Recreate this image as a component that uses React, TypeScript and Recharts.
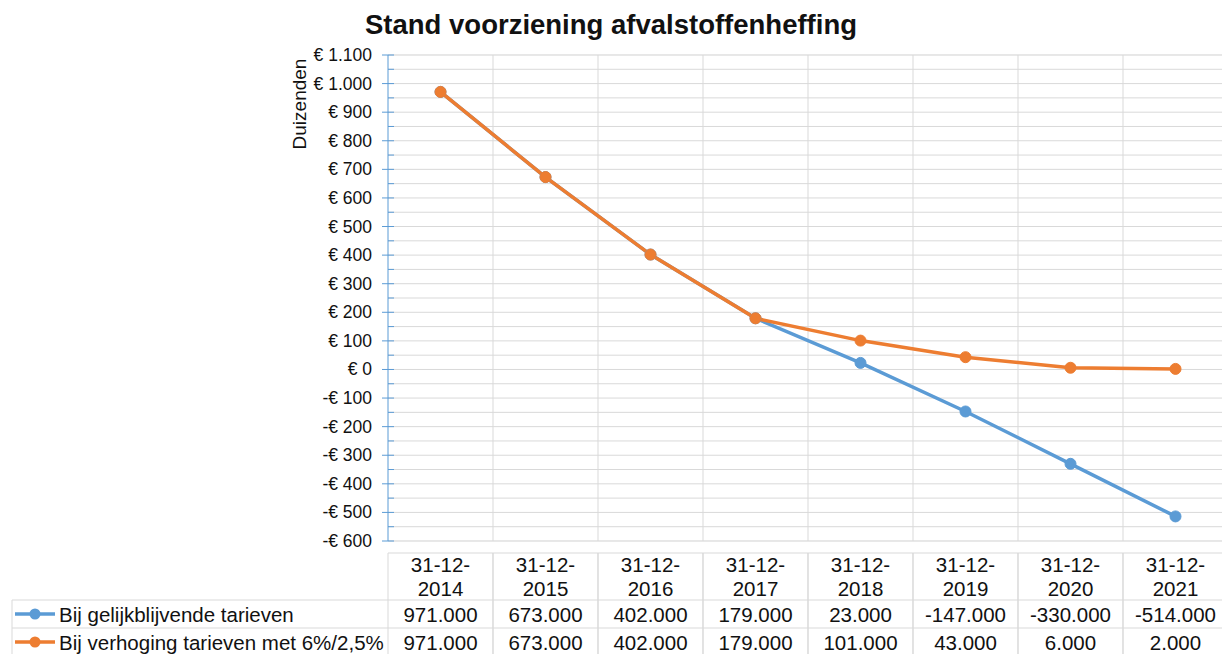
import React from 'react';
import { LineChart, Line, XAxis, YAxis, CartesianGrid, Label } from 'recharts';

const dates = ['31-12-2014', '31-12-2015', '31-12-2016', '31-12-2017', '31-12-2018', '31-12-2019', '31-12-2020', '31-12-2021'];
const gelijk = [971, 673, 402, 179, 23, -147, -330, -514];
const verhoging = [971, 673, 402, 179, 101, 43, 6, 2];
const seriesNames = ['Bij gelijkblijvende tarieven', 'Bij verhoging tarieven met 6%/2,5%'];
const majorTicks = [1100, 1000, 900, 800, 700, 600, 500, 400, 300, 200, 100, 0, -100, -200, -300, -400, -500, -600];
const minorTicks = [1050, 950, 850, 750, 650, 550, 450, 350, 250, 150, 50, -50, -150, -250, -350, -450, -550];

const data = dates.map((d, i) => ({ date: d, gelijk: gelijk[i], verhoging: verhoging[i] }));

const BLUE = '#5B9BD5';
const ORANGE = '#ED7D31';
const GRID = '#D9D9D9';
const FONT = 'Liberation Sans, Arial, sans-serif';

const W = 1230;
const H = 654;
const TOP = 55;
const LEFT = 388;
const RIGHT = 1228;
const BOTTOM = 541;
const BW = (RIGHT - LEFT) / dates.length;

const nl = (n: number) => {
  const s = Math.abs(n).toString().replace(/\B(?=(\d{3})+(?!\d))/g, '.');
  return (n < 0 ? '-' : '') + s;
};
const euro = (v: number) => (v < 0 ? '-€ ' : '€ ') + nl(Math.abs(v));

const YTick = (props: any) => {
  const { y, payload } = props;
  const v = payload.value;
  const major = v % 100 === 0;
  if (!major) {
    return <line x1={LEFT} x2={LEFT + 6} y1={y} y2={y} stroke={BLUE} strokeWidth={1} />;
  }
  return (
    <g>
      <line x1={LEFT - 6} x2={LEFT + 6} y1={y} y2={y} stroke={BLUE} strokeWidth={1} />
      <text x={372} y={y} textAnchor="end" dominantBaseline="central" fontSize={17.5} fontFamily={FONT} fill="#111">
        {euro(v)}
      </text>
    </g>
  );
};

const XTick = (props: any) => {
  const { x, payload, index } = props;
  const i = index ?? dates.indexOf(payload.value);
  const [a, b] = String(payload.value).split(/-(?=\d{4}$)/);
  const left = x - BW / 2;
  const right = x + BW / 2;
  const txt = { fontSize: 20.5, fontFamily: FONT, fill: '#111', textAnchor: 'middle' as const, dominantBaseline: 'central' as const };
  return (
    <g>
      <line x1={left} x2={right} y1={553} y2={553} stroke={GRID} />
      <line x1={left} x2={left} y1={553} y2={H} stroke={GRID} />
      <line x1={right} x2={right} y1={553} y2={H} stroke={GRID} />
      <line x1={left} x2={right} y1={600} y2={600} stroke={GRID} />
      <line x1={left} x2={right} y1={628} y2={628} stroke={GRID} />
      <text x={x} y={564} {...txt}>{a + '-'}</text>
      <text x={x} y={588} {...txt}>{b}</text>
      <text x={x} y={614} {...txt}>{nl(gelijk[i] * 1000)}</text>
      <text x={x} y={642} {...txt}>{nl(verhoging[i] * 1000)}</text>
      {i === 0 && (
        <g>
          <line x1={12} x2={left} y1={600} y2={600} stroke={GRID} />
          <line x1={12} x2={left} y1={628} y2={628} stroke={GRID} />
          <line x1={12} x2={12} y1={600} y2={H} stroke={GRID} />
          <line x1={15} x2={55} y1={614} y2={614} stroke={BLUE} strokeWidth={3.5} />
          <circle cx={35} cy={614} r={5.5} fill={BLUE} />
          <line x1={15} x2={55} y1={642} y2={642} stroke={ORANGE} strokeWidth={3.5} />
          <circle cx={35} cy={642} r={5.5} fill={ORANGE} />
          <text x={59} y={614} {...txt} textAnchor="start">{seriesNames[0]}</text>
          <text x={59} y={642} {...txt} textAnchor="start">{seriesNames[1]}</text>
        </g>
      )}
    </g>
  );
};

const vLines = dates.map((_, i) => LEFT + BW * (i + 1));

export default function App() {
  return (
    <div style={{ position: 'absolute', left: 0, top: 0, width: 1222, height: H, overflow: 'hidden', background: '#fff' }}>
      <div
        style={{
          position: 'absolute',
          left: 0,
          width: 1222,
          top: 9,
          textAlign: 'center',
          fontFamily: FONT,
          fontWeight: 'bold',
          fontSize: 27.5,
          color: '#111',
        }}
      >
        Stand voorziening afvalstoffenheffing
      </div>
      <LineChart width={W} height={H} data={data} margin={{ top: TOP, right: W - RIGHT, bottom: 0, left: 0 }}>
        <CartesianGrid yAxisId="minor" vertical={false} stroke="#EDEDED" />
        <CartesianGrid yAxisId="left" horizontal={true} verticalPoints={vLines} stroke={GRID} />
        <XAxis
          dataKey="date"
          scale="band"
          height={H - BOTTOM}
          axisLine={false}
          tickLine={false}
          interval={0}
          tick={<XTick />}
        />
        <YAxis
          yAxisId="left"
          width={LEFT}
          domain={[-600, 1100]}
          ticks={majorTicks.concat(minorTicks)}
          interval={0}
          type="number"
          axisLine={{ stroke: BLUE }}
          tickLine={false}
          tick={<YTick />}
        >
          <Label
            content={() => (
              <text x={299} y={104} transform="rotate(-90 299 104)" textAnchor="middle" dominantBaseline="central" fontSize={19} fontFamily={FONT} fill="#111">
                Duizenden
              </text>
            )}
          />
        </YAxis>
        <YAxis yAxisId="minor" hide domain={[-600, 1100]} ticks={minorTicks} type="number" interval={0} />
        <Line yAxisId="left" dataKey="gelijk" stroke={BLUE} strokeWidth={3.5} dot={{ r: 5.5, fill: BLUE, stroke: BLUE, strokeWidth: 1 }} isAnimationActive={false} />
        <Line yAxisId="left" dataKey="verhoging" stroke={ORANGE} strokeWidth={3.5} dot={{ r: 5.5, fill: ORANGE, stroke: ORANGE, strokeWidth: 1 }} isAnimationActive={false} />
      </LineChart>
    </div>
  );
}
